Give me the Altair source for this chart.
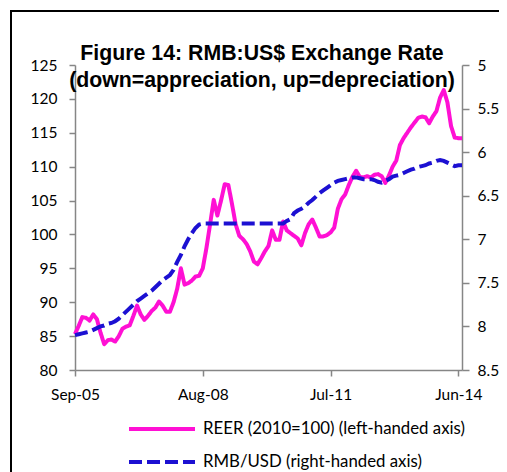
import altair as alt
import pandas as pd

# Monthly observations, Sep-05 .. Jul-14
reer = [85.3, 86.5, 87.8, 87.7, 87.3, 88.2, 87.5, 85.5, 83.8, 84.4,
        84.5, 84.2, 85.0, 86.1, 86.4, 86.6, 88.0, 89.5, 88.2, 87.4,
        88.0, 88.7, 89.2, 90.1, 89.5, 88.6, 88.6, 90.0, 92.0, 95.0,
        92.6, 92.8, 93.2, 93.8, 93.9, 95.0, 98.0, 101.5, 105.1, 102.8,
        105.0, 107.4, 107.3, 104.5, 101.5, 99.8, 99.3, 98.6, 97.5, 96.0,
        95.6, 96.5, 97.5, 98.3, 100.6, 99.2, 99.2, 101.9, 100.6, 100.2,
        99.8, 99.4, 98.4, 100.2, 101.5, 102.2, 101.0, 99.7, 99.7, 99.9,
        100.3, 101.0, 103.8, 105.2, 105.9, 107.3, 108.5, 109.4, 108.5, 108.4,
        108.6, 108.4, 108.8, 108.9, 108.6, 107.6, 108.7, 110.0, 110.9, 113.2,
        114.2, 115.0, 115.8, 116.5, 117.2, 117.4, 117.3, 116.4, 117.4, 118.2,
        120.2, 121.3, 119.5, 116.0, 114.3, 114.2, 114.2]

rmb = [8.10, 8.09, 8.08, 8.07, 8.06, 8.04, 8.02, 8.00, 7.99, 7.97,
       7.96, 7.94, 7.91, 7.87, 7.83, 7.79, 7.75, 7.71, 7.68, 7.65,
       7.62, 7.59, 7.55, 7.51, 7.47, 7.44, 7.41, 7.35, 7.26, 7.18,
       7.08, 7.00, 6.93, 6.87, 6.83, 6.82, 6.82, 6.82, 6.82, 6.82,
       6.82, 6.82, 6.82, 6.82, 6.82, 6.82, 6.82, 6.82, 6.82, 6.82,
       6.82, 6.82, 6.82, 6.82, 6.82, 6.82, 6.82, 6.82, 6.79, 6.77,
       6.70, 6.67, 6.65, 6.62, 6.58, 6.55, 6.51, 6.47, 6.44, 6.41,
       6.38, 6.35, 6.33, 6.32, 6.31, 6.30, 6.29, 6.29, 6.30, 6.31,
       6.31, 6.31, 6.32, 6.34, 6.35, 6.33, 6.31, 6.28, 6.27, 6.26,
       6.24, 6.22, 6.20, 6.19, 6.17, 6.16, 6.15, 6.13, 6.12, 6.10,
       6.09, 6.10, 6.12, 6.14, 6.16, 6.15, 6.15]

series_names = ["REER (2010=100) (left-handed axis)", "RMB/USD (right-handed axis)"]
series_colors = ["#FF10D4", "#1C10D2"]
tick_idx = [0, 35, 70, 105]
tick_labels = ["Sep-05", "Aug-08", "Jul-11", "Jun-14"]
left_ticks = [80, 85, 90, 95, 100, 105, 110, 115, 120, 125]
right_ticks = [5, 5.5, 6, 6.5, 7, 7.5, 8, 8.5]
title_lines = ["Figure 14: RMB:US$ Exchange Rate", "(down=appreciation, up=depreciation)"]

df_reer = pd.DataFrame({"idx": range(len(reer)), "value": reer, "series": series_names[0]})
df_rmb = pd.DataFrame({"idx": range(len(rmb)), "value": rmb, "series": series_names[1]})

label_expr = " : ".join(f"datum.value == {i} ? '{l}'" for i, l in zip(tick_idx, tick_labels)) + " : ''"

FONT = "Lato"
GREY = "#868686"
TICK_FS = 15.5

x_enc = alt.X("idx:Q", scale=alt.Scale(domain=[0, 106], nice=False, zero=False),
              axis=alt.Axis(values=tick_idx, labelExpr=label_expr, title=None, grid=False,
                            domainColor=GREY, domainWidth=1.5, tickColor=GREY, tickWidth=1.5,
                            tickSize=6, labelPadding=11, labelFont=FONT, labelFontSize=TICK_FS,
                            labelColor="#000", labelAngle=0, labelFlush=False))

# long horizontal line symbol: path spans 6 units (unit = sqrt(size)/2)
legend = alt.Legend(orient="none", legendX=52, legendY=351, title=None, direction="vertical",
                    symbolType="M-1,0H5", symbolSize=484, symbolStrokeWidth=4,
                    symbolFillColor="transparent",
                    labelFont=FONT, labelFontSize=16.8, labelColor="#000", labelLimit=0,
                    labelOffset=50, rowPadding=11, padding=0)

color_enc = alt.Color("series:N", scale=alt.Scale(domain=series_names, range=series_colors), legend=legend)
dash_enc = alt.StrokeDash("series:N", scale=alt.Scale(domain=series_names, range=[[1, 0], [13, 5]]), legend=legend)

line_reer = alt.Chart(df_reer).mark_line(strokeWidth=4, strokeJoin="round").encode(
    x=x_enc,
    y=alt.Y("value:Q", scale=alt.Scale(domain=[80, 125], nice=False, zero=False),
            axis=alt.Axis(orient="left", values=left_ticks, title=None, grid=False,
                          domainColor=GREY, domainWidth=1.5, tickColor=GREY, tickWidth=1.5,
                          tickSize=6, labelPadding=12, labelFont=FONT, labelFontSize=TICK_FS,
                          labelColor="#000")),
    color=color_enc,
    strokeDash=dash_enc,
)

line_rmb = alt.Chart(df_rmb).mark_line(strokeWidth=4).encode(
    x=x_enc,
    y=alt.Y("value:Q", scale=alt.Scale(domain=[5, 8.5], nice=False, zero=False, reverse=True),
            axis=alt.Axis(orient="right", values=right_ticks, format="~g", title=None, grid=False,
                          domainColor=GREY, domainWidth=1.5, tickColor=GREY, tickWidth=1.5,
                          tickSize=7, labelPadding=8, labelFont=FONT, labelFontSize=TICK_FS,
                          labelColor="#000")),
    color=color_enc,
    strokeDash=dash_enc,
)

frame = alt.Chart(pd.DataFrame({"a": [0]})).mark_rect(fill=None, stroke="black", strokeWidth=2).encode(
    x=alt.value(-64), y=alt.value(-54), x2=alt.value(700), y2=alt.value(700)
)

chart = alt.layer(frame, line_reer, line_rmb).resolve_scale(y="independent").properties(
    width=387, height=305,
    autosize=alt.AutoSizeParams(type="none"),
    padding={"left": 67, "top": 57, "right": 37, "bottom": 102},
    title=alt.Title(title_lines, font="Liberation Sans", fontSize=21.3, fontWeight="bold",
                    color="#000", anchor="middle", frame="group", offset=-81, dx=-6.5, lineHeight=27),
).configure_view(stroke=None)

chart.save("out.html", embed_options={"renderer": "svg", "actions": False})
